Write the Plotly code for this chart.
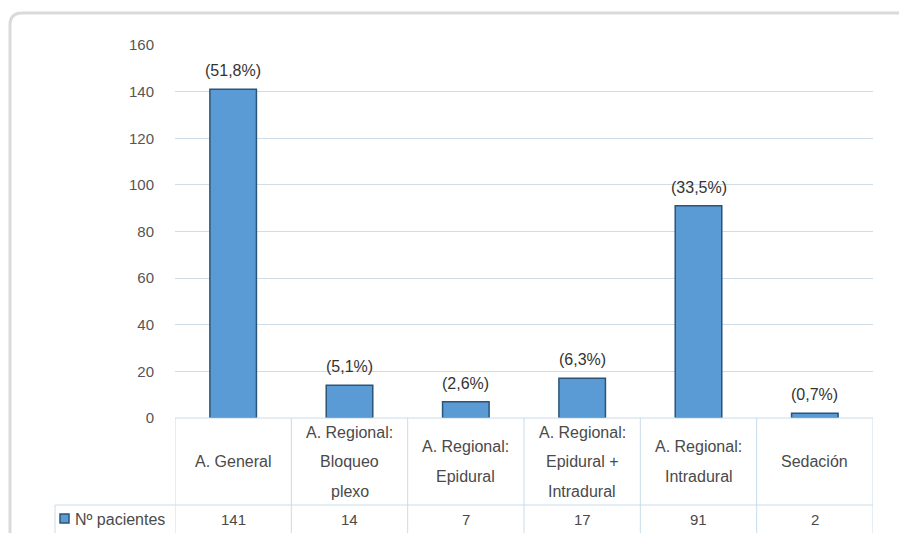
import plotly.graph_objects as go

# Data
categories = [
    "A. General",
    "A. Regional:|Bloqueo|plexo",
    "A. Regional:|Epidural",
    "A. Regional:|Epidural +|Intradural",
    "A. Regional:|Intradural",
    "Sedación",
]
pacientes = [141, 14, 7, 17, 91, 2]
porcentajes = ["(51,8%)", "(5,1%)", "(2,6%)", "(6,3%)", "(33,5%)", "(0,7%)"]
y_ticks = [0, 20, 40, 60, 80, 100, 120, 140, 160]
serie = "Nº pacientes"

W, H = 899, 533
X0, X1 = 175, 873          # plot area, px
Y_TOP, Y_BASE = 45, 418    # y=160 and y=0, px
ROW1_BOTTOM = 505          # category row / value row divider
FONT = "Liberation Sans, Arial, sans-serif"
TXT = "#4a4a4a"
GRID = "#cfdde8"
TABLE = "#c9dcea"
BAR = "#5b9bd5"
BAR_EDGE = "#2b5576"


def py(px):
    """pixel y (from top) to paper y"""
    return 1 - px / H


def pxx(px):
    return px / W


n = len(categories)
xs = list(range(n))

fig = go.Figure()
fig.add_trace(go.Bar(
    x=xs, y=pacientes, width=0.4,
    marker=dict(color=BAR, line=dict(color=BAR_EDGE, width=1.5)),
    hoverinfo="skip", showlegend=False,
))

shapes = []
annotations = []

# outer frame with rounded top-left corner
fx, fy, r = 10, 13, 12
path = (f"M {pxx(fx)},{py(H + 5)} L {pxx(fx)},{py(fy + r)} "
        f"Q {pxx(fx)},{py(fy)} {pxx(fx + r)},{py(fy)} L {pxx(W + 5)},{py(fy)}")
shapes.append(dict(type="path", xref="paper", yref="paper", path=path,
                   line=dict(color="#d8dadc", width=3)))

# table: horizontal lines
shapes.append(dict(type="line", xref="x", yref="paper", x0=-0.5, x1=n - 0.5,
                   y0=py(Y_BASE), y1=py(Y_BASE), line=dict(color=TABLE, width=1)))
shapes.append(dict(type="line", xref="paper", yref="paper", x0=pxx(55), x1=pxx(X1),
                   y0=py(ROW1_BOTTOM), y1=py(ROW1_BOTTOM), line=dict(color=TABLE, width=1)))
# table: vertical lines between columns
for i in range(n + 1):
    shapes.append(dict(type="line", xref="x", yref="paper", x0=i - 0.5, x1=i - 0.5,
                       y0=py(Y_BASE), y1=py(H), line=dict(color=TABLE, width=1)))
# legend cell left border
shapes.append(dict(type="line", xref="paper", yref="paper", x0=pxx(55), x1=pxx(55),
                   y0=py(ROW1_BOTTOM), y1=py(H), line=dict(color=TABLE, width=1)))
# legend key square
shapes.append(dict(type="rect", xref="paper", yref="paper",
                   x0=pxx(60), x1=pxx(69), y0=py(523), y1=py(514),
                   fillcolor=BAR, line=dict(color=BAR_EDGE, width=1.5)))

# category labels (one annotation per line to get the wide line spacing)
row_mid = (Y_BASE + ROW1_BOTTOM) / 2
line_gap = 29.5
for i, cat in enumerate(categories):
    lines = cat.split("|")
    k = len(lines)
    for j, ln in enumerate(lines):
        yc = row_mid + (j - (k - 1) / 2) * line_gap
        annotations.append(dict(x=i, y=py(yc), xref="x", yref="paper", text=ln,
                                showarrow=False, yanchor="middle", xanchor="center",
                                font=dict(family=FONT, size=16, color=TXT)))

# value row
for i, v in enumerate(pacientes):
    annotations.append(dict(x=i, y=py(519), xref="x", yref="paper", text=str(v),
                            showarrow=False, yanchor="middle", xanchor="center",
                            font=dict(family=FONT, size=15, color=TXT)))
annotations.append(dict(x=pxx(73), y=py(519), xref="paper", yref="paper", text=serie,
                        showarrow=False, yanchor="middle", xanchor="left",
                        font=dict(family=FONT, size=16, color=TXT)))

# percentage labels above bars
for i, (v, p) in enumerate(zip(pacientes, porcentajes)):
    annotations.append(dict(x=i, y=v, xref="x", yref="y", text=p, showarrow=False,
                            yanchor="bottom", xanchor="center", yshift=8,
                            font=dict(family=FONT, size=16, color="#333333")))

fig.update_layout(
    width=W, height=H,
    margin=dict(l=0, r=0, t=0, b=0, autoexpand=False),
    paper_bgcolor="white", plot_bgcolor="white",
    bargap=0.6,
    xaxis=dict(domain=[pxx(X0), pxx(X1)], range=[-0.5, n - 0.5],
               showticklabels=False, showgrid=False, zeroline=False,
               showline=False, fixedrange=True, automargin=False),
    yaxis=dict(domain=[py(Y_BASE), py(Y_TOP)], range=[0, 160],
               tickvals=y_ticks, ticktext=[str(t) for t in y_ticks],
               showgrid=True, gridcolor=GRID, gridwidth=1,
               zeroline=False, showline=False,
               ticks="outside", ticklen=17, tickcolor="rgba(0,0,0,0)",
               tickfont=dict(family=FONT, size=15, color="#555555"),
               fixedrange=True, automargin=False),
    shapes=shapes,
    annotations=annotations,
)

fig.write_html("out.html")
